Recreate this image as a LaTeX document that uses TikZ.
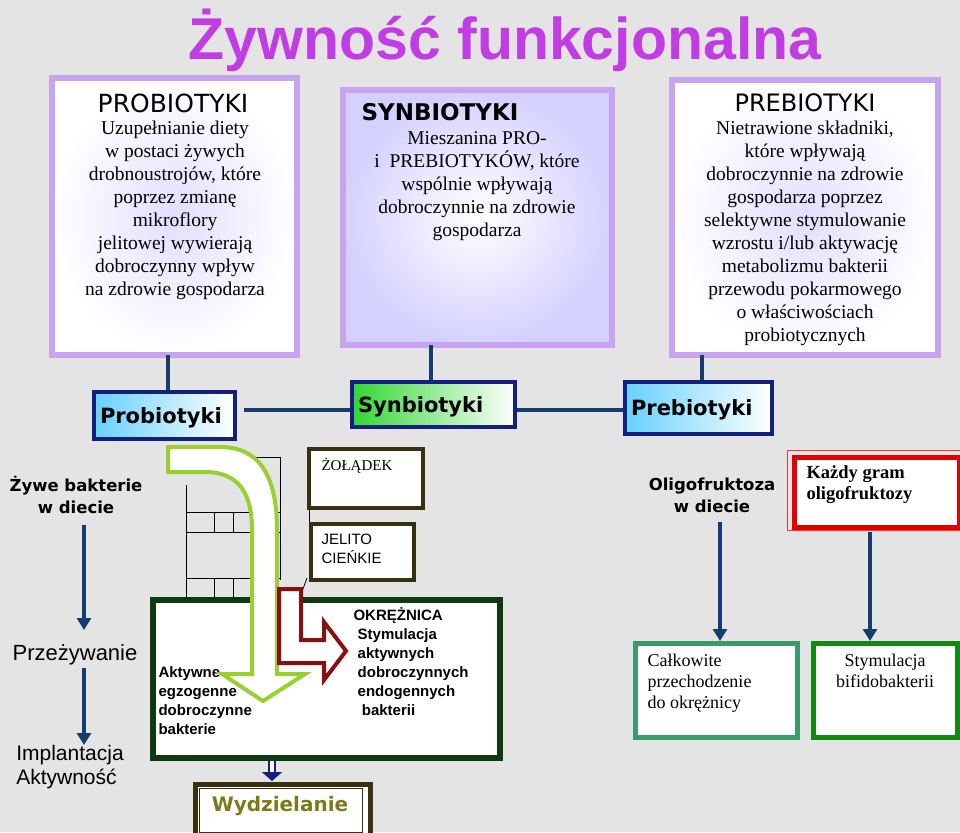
\documentclass[tikz,border=0pt]{standalone}
\usepackage{fontspec}
\setmainfont{Liberation Serif}
\newfontfamily\arialf{Liberation Sans}
\newfontfamily\comicf{DejaVu Sans}
\usetikzlibrary{arrows.meta,shadings}
\definecolor{bg}{HTML}{E4E4E4}
\definecolor{lav}{HTML}{C8A4F0}
\definecolor{lavfill}{HTML}{D4D0FF}
\definecolor{navy}{HTML}{14207E}
\definecolor{conn}{HTML}{143C6E}
\definecolor{olive}{HTML}{38300E}
\definecolor{dgreen}{HTML}{0E3A10}
\definecolor{lgreen}{HTML}{98D030}
\definecolor{dred}{HTML}{8A1010}
\definecolor{teal}{HTML}{3A9A6A}
\definecolor{gr}{HTML}{108A10}
\definecolor{mag}{HTML}{C23CE6}
\definecolor{wyd}{HTML}{7E7A18}
\tikzset{
  cat/.style={draw=navy,line width=4pt,font=\comicf\bfseries\fontsize{21}{24}\selectfont,anchor=north west,inner sep=0pt,text depth=0pt},
  conline/.style={conn,line width=4pt},
  arr/.style={conn,line width=3.5pt,-{Triangle[length=12pt,width=14pt]}},
  side/.style={font=\comicf\bfseries\fontsize{16.5}{22}\selectfont,align=center},
  body/.style={font=\fontsize{19.5}{23}\selectfont,align=center},
  organ/.style={draw=olive,line width=4pt,fill=white,anchor=north west,inner sep=0pt},
  arialt/.style={font=\arialf\fontsize{15}{19}\selectfont,align=left},
}
\begin{document}
\begin{tikzpicture}[x=1pt,y=-1pt]
\fill[bg] (0,0) rectangle (960,832);
\useasboundingbox (0,0) rectangle (960,832);
% title
\node[font=\arialf\bfseries\fontsize{59}{60}\selectfont,text=mag] (title) at (505,40) {Żywność funkcjonalna};
% top boxes
\shade[inner color=lavfill!70,outer color=white] (52,78) rectangle (297,355);
\draw[lav,line width=6pt] (52,78) rectangle (297,355);
\draw[white,line width=1pt] (58,84) rectangle (291,349);
\node[inner sep=0pt] (pbox) at (175,216) [minimum width=245pt,minimum height=277pt] {};
\node[font=\comicf\fontsize{25}{28}\selectfont] (ph) at (173,103) {PROBIOTYKI};
\node[body,anchor=north] (pt) at (175,117) {Uzupełnianie diety\\w postaci żywych\\drobnoustrojów, które\\poprzez zmianę\\mikroflory\\jelitowej wywierają\\dobroczynny wpływ\\na zdrowie gospodarza};

\shade[inner color=white,outer color=lavfill] (343,90) rectangle (612,345);
\draw[lav,line width=6pt] (343,90) rectangle (612,345);
\node[inner sep=0pt] (sbox) at (477,217) [minimum width=269pt,minimum height=255pt] {};
\node[font=\comicf\bfseries\fontsize{23}{26}\selectfont] (sh) at (440,112) {SYNBIOTYKI};
\node[body,anchor=north] (st) at (477,128) {Mieszanina PRO-\\i\ \ PREBIOTYKÓW, które\\wspólnie wpływają\\dobroczynnie na zdrowie\\gospodarza};

\shade[inner color=lavfill!70,outer color=white] (672,80) rectangle (938,355);
\draw[lav,line width=6pt] (672,80) rectangle (938,355);
\node[inner sep=0pt] (rbox) at (805,217) [minimum width=266pt,minimum height=275pt] {};
\node[font=\comicf\fontsize{24}{27}\selectfont] (rh) at (805,103) {PREBIOTYKI};
\node[body,anchor=north] (rt) at (805,117) {Nietrawione składniki,\\które wpływają\\dobroczynnie na zdrowie\\gospodarza poprzez\\selektywne stymulowanie\\wzrostu i/lub aktywację\\metabolizmu bakterii\\przewodu pokarmowego\\o właściwościach\\probiotycznych};

% category boxes
\node[cat,minimum width=141pt,minimum height=47pt,left color=cyan!70!blue!60,right color=white,text width=129pt,align=left,inner xsep=6pt] (cpro) at (92,390) {Probiotyki};
\node[cat,minimum width=163pt,minimum height=45pt,left color=green!80!black!80,right color=white,text width=151pt,align=left,inner xsep=6pt] (csyn) at (350,380) {Synbiotyki};
\node[cat,minimum width=147pt,minimum height=52pt,left color=cyan!70!blue!60,right color=white,text width=135pt,align=left,inner xsep=6pt] (cpre) at (623,380) {Prebiotyki};
\draw[conline] (168,355) -- (cpro.north -| 168,0);
\draw[conline] (431,345) -- (csyn.north -| 431,0);
\draw[conline] (702,355) -- (cpre.north -| 702,0);
\draw[conline] (cpro.east |- 0,410) ++(7,0) -- (csyn.west |- 0,410);
\draw[conline] (csyn.east |- 0,410) -- (cpre.west |- 0,410);

% left column
\node[side] (zyw) at (76,495) {Żywe bakterie\\w diecie};
\node[font=\arialf\fontsize{22}{24}\selectfont] (prz) at (75,655) {Przeżywanie};
\node[font=\arialf\fontsize{21}{24}\selectfont,align=left] (imp) at (70,767) {Implantacja\\Aktywność};
\draw[arr] (84,525) -- (84,630);
\draw[arr] (84,668) -- (84,745);

% right columns
\node[side] (oli) at (712,495) {Oligofruktoza\\w diecie};
\node[draw=red!90!black,line width=5pt,anchor=north west,minimum width=165pt,minimum height=70pt,fill=white] (kaz) at (792,455) {};
\draw[red!80,line width=1pt] (787,450) rectangle (962,530);
\node[font=\bfseries\fontsize{18.5}{21}\selectfont,align=left,anchor=north west] (kazt) at (803,462) {Każdy gram\\oligofruktozy};
\node[draw=teal,line width=5pt,fill=white,anchor=north west,minimum width=162pt,minimum height=94pt] (cal) at (633,641) {};
\node[font=\fontsize{18}{21}\selectfont,align=left,anchor=north west] (calt) at (644,650) {Całkowite\\przechodzenie\\do okrężnicy};
\node[draw=gr,line width=5pt,fill=white,anchor=north west,minimum width=144pt,minimum height=94pt] (sty) at (811,641) {};
\node[font=\fontsize{18}{21}\selectfont,align=center,anchor=north] (styt) at (885,650) {Stymulacja\\bifidobakterii};
\draw[arr] (720,522) -- (cal.north -| 720,0);
\draw[arr] (870,532) -- (sty.north -| 870,0);

% wall
\draw[black,line width=0.8pt] (186,485) -- (186,597) (253,457) -- (280,457) -- (280,580)
  (186,512) -- (280,512) (186,532) -- (280,532) (186,578) -- (280,578)
  (214,512) -- (214,532) (233,512) -- (233,532) (214,578) -- (214,597) (233,578) -- (233,597);

% organs
\node[organ,minimum width=114pt,minimum height=59pt] (zol) at (307,447) {};
\node[font=\fontsize{15}{16}\selectfont,anchor=north west] at (318,455) {ŻOŁĄDEK};
\node[organ,minimum width=103pt,minimum height=56pt] (jel) at (309,522) {};
\node[arialt,anchor=north west] at (318,530) {JELITO\\CIEŃKIE};
\draw[line width=0.8pt] (zol.south west) ++(2,0) -- (309,522);
\node[draw=dgreen,line width=6pt,fill=white,anchor=north west,minimum width=347pt,minimum height=158pt,inner sep=0pt] (okr) at (150,597) {};
\draw[line width=0.8pt] (307,578) -- (300,597);
\node[font=\arialf\bfseries\fontsize{15}{19}\selectfont,align=left,anchor=north west] (okrt) at (350,604) {OKRĘŻNICA\\\ Stymulacja\\\ aktywnych\\\ dobroczynnych\\\ endogennych\\\ \ bakterii};
\node[font=\arialf\bfseries\fontsize{15}{19}\selectfont,align=left,anchor=north west] (akt) at (155,663) {Aktywne\\egzogenne\\dobroczynne\\bakterie};

% arrows
\draw[lgreen,line width=4pt,fill=white] (168,447) -- (220,447) .. controls (262,447) and (277,480) .. (277,530) -- (277,674) -- (305,674) -- (263,701) -- (222,674) -- (252,674) -- (252,530) .. controls (252,495) and (240,472) .. (205,472) -- (168,472) -- cycle;
\draw[dred,line width=4pt,fill=white] (279,589) -- (301,589) -- (301,640) -- (324,640) -- (324,622) -- (346,651) -- (324,680) -- (324,663) -- (279,663) -- cycle;

% Wydzielanie
\node[draw=olive,line width=5pt,fill=white,anchor=north west,minimum width=175pt,minimum height=52pt] (wyd) at (193,782) {};
\draw[olive,line width=0.8pt] (199,788) rectangle (362,832);
\node[font=\comicf\bfseries\fontsize{20}{24}\selectfont,text=wyd] (wydt) at (280,806) {Wydzielanie};
\draw[navy,line width=2pt,double=white,double distance=4pt,-{Triangle[length=9pt,width=20pt]}] (okr.south -| 272,0) -- (272,781);
\end{tikzpicture}
\end{document}
